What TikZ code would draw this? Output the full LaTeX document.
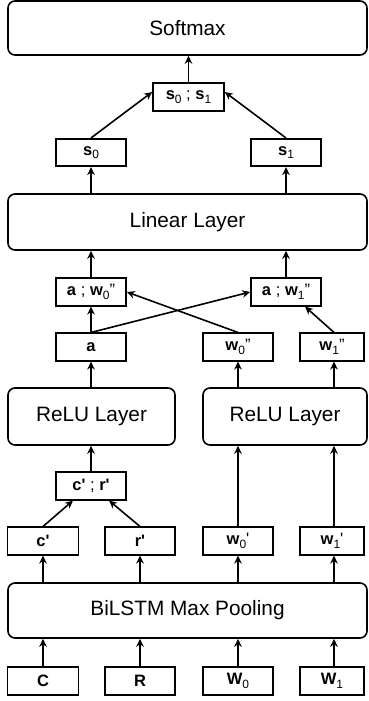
\documentclass[tikz,border=0pt]{standalone}
\usepackage{fontspec}
\setmainfont{Liberation Sans}
\usetikzlibrary{arrows.meta}
\newcommand\sbs[1]{\raisebox{-0.22em}{\fontsize{12}{13}\selectfont #1}}
\newcommand\pr{\textquotesingle}
\newcommand\ppr{\symbol{34}}
\begin{document}
\begin{tikzpicture}[x=1pt,y=-1pt,
  big/.style={draw=black,line width=1.6pt,rounded corners=7pt,minimum width=359pt,inner sep=0pt,font=\fontsize{20.8}{22}\selectfont},
  small/.style={draw=black,line width=1.6pt,minimum width=70pt,minimum height=27.5pt,inner sep=0pt,font=\fontsize{16.5}{18}\selectfont},
  arr/.style={-{Stealth[length=8pt,width=7.5pt]},line width=1.6pt}]
\useasboundingbox (0,0) rectangle (368,701);
% layers
\node[big,minimum height=54pt] (soft) at (187.5,28) {Softmax};
\node[big,minimum height=56pt] (lin) at (187.5,222) {Linear Layer};
\node[big,minimum height=57pt,minimum width=167pt] (reluL) at (91.5,416.5) {ReLU Layer};
\node[big,minimum height=57pt,minimum width=164pt] (reluR) at (285,416.5) {ReLU Layer};
\node[big,minimum height=55pt] (bil) at (187.5,610.5) {BiLSTM Max Pooling};
% small boxes
\node[small,minimum width=71pt] (cat) at (188.5,97) {\textbf{s}\sbs{0} ; \textbf{s}\sbs{1}};
\node[small] (s0) at (91,152.5) {\textbf{s}\sbs{0}};
\node[small] (s1) at (286,152.5) {\textbf{s}\sbs{1}};
\node[small] (aw0) at (91,292) {\textbf{a} ; \textbf{w}\sbs{0}\ppr};
\node[small] (aw1) at (286,292) {\textbf{a} ; \textbf{w}\sbs{1}\ppr};
\node[small] (a) at (91,347) {\textbf{a}};
\node[small] (w0pp) at (238,347) {\textbf{w}\sbs{0}\ppr};
\node[small,minimum width=64pt] (w1pp) at (332,347) {\textbf{w}\sbs{1}\ppr};
\node[small] (cr) at (91,486) {\textbf{c\pr} ; \textbf{r\pr}};
\node[small,minimum width=71pt] (cp) at (43,541) {\textbf{c\pr}};
\node[small] (rp) at (140,541) {\textbf{r\pr}};
\node[small] (w0p) at (238,541) {\textbf{w}\sbs{0}\pr};
\node[small,minimum width=64pt] (w1p) at (332,541) {\textbf{w}\sbs{1}\pr};
\node[small,minimum width=71pt] (C) at (43,681) {\textbf{C}};
\node[small] (R) at (140,681) {\textbf{R}};
\node[small] (W0) at (238,681) {\textbf{W}\sbs{0}};
\node[small,minimum width=64pt] (W1) at (332,681) {\textbf{W}\sbs{1}};
% arrows bottom
\foreach \n/\x in {C/43,R/140,W0/238,W1/334}
  \draw[arr] (\n.north -| \x,0) -- (bil.south -| \x,0);
\foreach \n/\x in {cp/43,rp/140,w0p/238,w1p/334}
  \draw[arr] (bil.north -| \x,0) -- (\n.south -| \x,0);
\draw[arr] (cp.north) -- ([xshift=-18pt]cr.south);
\draw[arr] (rp.north) -- ([xshift=18pt]cr.south);
\draw[arr] (cr.north) -- (reluL.south -| cr.north);
\draw[arr] (w0p.north) -- (reluR.south -| w0p.north);
\draw[arr] (w1p.north -| 334,0) -- (reluR.south -| 334,0);
\draw[arr] (reluL.north -| a.south) -- (a.south);
\draw[arr] (reluR.north -| w0pp.south) -- (w0pp.south);
\draw[arr] (reluR.north -| 334,0) -- (w1pp.south -| 334,0);
% cross
\draw[arr] (a.north) -- (aw0.south);
\draw[arr] (a.north) -- (aw1.west);
\draw[arr] (w0pp.north) -- (aw0.east);
\draw[arr] (w1pp.north -| 334,0) -- ([xshift=19pt]aw1.south);
\draw[arr] (aw0.north) -- (lin.south -| aw0.north);
\draw[arr] (aw1.north) -- (lin.south -| aw1.north);
\draw[arr] (lin.north -| s0.south) -- (s0.south);
\draw[arr] (lin.north -| s1.south) -- (s1.south);
\draw[arr] (s0.north) -- ([yshift=5pt]cat.west);
\draw[arr] (s1.north) -- ([yshift=5pt]cat.east);
\draw[arr] (cat.north) -- (soft.south -| cat.north);
\end{tikzpicture}
\end{document}
